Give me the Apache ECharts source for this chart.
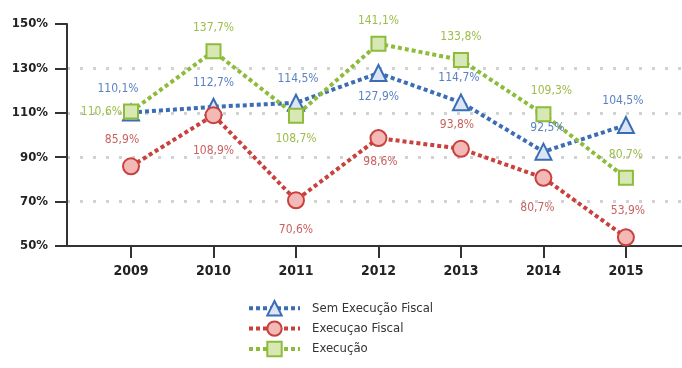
<!DOCTYPE html>
<html>
<head>
<meta charset="utf-8">
<script src="https://cdn.jsdelivr.net/npm/echarts@6/dist/echarts.min.js"></script>
<style>
  html, body { margin: 0; padding: 0; background: #fff; }
  #chart { width: 682px; height: 368px; }
</style>
</head>
<body>
<div id="chart"></div>
<script>
// data
const years = [2009, 2010, 2011, 2012, 2013, 2014, 2015];
const semExecucaoFiscal = [110.1, 112.7, 114.5, 127.9, 114.7, 92.5, 104.5];
const execucaoFiscal = [85.9, 108.9, 70.6, 98.6, 93.8, 80.7, 53.9];
const execucao = [110.6, 137.7, 108.7, 141.1, 133.8, 109.3, 80.7];
const seriesNames = ['Sem Execução Fiscal', 'Execuçao Fiscal', 'Execução'];
const yTicks = [50, 70, 90, 110, 130, 150];

// where each value label sits
const semPos = ['top', 'top', 'top', 'bottom', 'top', 'top', 'top'];
const semOff = [[-13, 0], [0, 0], [2, 0], [0, 0], [-2, 0], [4, 0], [-3, 0]];
const fiscPos = ['top', 'bottom', 'bottom', 'bottom', 'top', 'bottom', 'top'];
const fiscOff = [[-9, -2], [0, 12], [0, 6], [2, 0], [-4, 0], [-6, 6], [2, -2]];
const execPos = ['left', 'top', 'bottom', 'top', 'top', 'top', 'top'];
const execOff = [[8, 0], [0, 0], [0, 0], [0, 0], [0, 0], [8, 0], [0, 0]];

const font = '"DejaVu Sans Condensed", "Liberation Sans Narrow", sans-serif';
const fmt = v => v.toFixed(1).replace('.', ',') + '%';

function pts(vals, pos, off) {
  return vals.map((v, i) => ({
    value: [years[i], v],
    label: { position: pos[i], offset: off[i] }
  }));
}

function makeSeries(name, vals, pos, off, lineColor, fill, labelColor, symbol, size) {
  return {
    name: name,
    type: 'line',
    data: pts(vals, pos, off),
    symbol: symbol,
    symbolSize: size,
    lineStyle: { color: lineColor, width: 4, type: [4, 3], cap: 'butt' },
    itemStyle: { color: fill, borderColor: lineColor, borderWidth: 2 },
    label: {
      show: true,
      distance: 9,
      color: labelColor,
      fontFamily: font,
      fontSize: 12,
      formatter: p => fmt(p.value[1])
    },
    emphasis: { disabled: true },
    z: 3
  };
}

const chart = echarts.init(document.getElementById('chart'));
chart.setOption({
  animation: false,
  grid: { left: 67, right: 0, top: 24, bottom: 122 },
  legend: {
    orient: 'vertical',
    left: 242,
    top: 295,
    itemWidth: 51,
    itemHeight: 18,
    itemGap: 4,
    lineStyle: { width: 4, type: [4, 3], cap: 'butt' },
    textStyle: { fontFamily: font, fontSize: 13, color: '#333', padding: [0, 0, 0, 7] },
    data: seriesNames
  },
  xAxis: {
    type: 'value',
    min: years[0] - 0.776,
    max: years[years.length - 1] + 0.68,
    axisLine: { show: true, lineStyle: { color: '#333', width: 2 } },
    axisTick: { show: true, length: 12, customValues: years, lineStyle: { color: '#333', width: 2 } },
    axisLabel: {
      customValues: years,
      margin: 18,
      color: '#222',
      fontFamily: font,
      fontWeight: 'bold',
      fontSize: 14,
      formatter: v => String(v)
    },
    splitLine: { show: false }
  },
  yAxis: {
    type: 'value',
    min: yTicks[0],
    max: yTicks[yTicks.length - 1],
    interval: 20,
    axisLine: { show: true, lineStyle: { color: '#333', width: 2 } },
    axisTick: { show: true, length: 12, lineStyle: { color: '#333', width: 2 } },
    axisLabel: {
      margin: 19,
      color: '#222',
      fontFamily: font,
      fontWeight: 'bold',
      fontSize: 13,
      formatter: v => v + '%'
    },
    splitLine: {
      show: true,
      lineStyle: {
        color: ['rgba(0,0,0,0)', '#d2d2d2', '#d2d2d2', '#d2d2d2', '#d2d2d2', 'rgba(0,0,0,0)'],
        width: 3,
        type: [3, 10],
        cap: 'butt'
      }
    }
  },
  series: [
    makeSeries(seriesNames[0], semExecucaoFiscal, semPos, semOff, '#3a6db5', '#dbe5f5', '#5a83c2', 'triangle', 16),
    makeSeries(seriesNames[1], execucaoFiscal, fiscPos, fiscOff, '#c9403c', '#f2b9b7', '#c8625f', 'circle', 16),
    makeSeries(seriesNames[2], execucao, execPos, execOff, '#8dbb3a', '#d8e8b4', '#9cbd4a', 'rect', 14)
  ]
});
</script>
</body>
</html>
